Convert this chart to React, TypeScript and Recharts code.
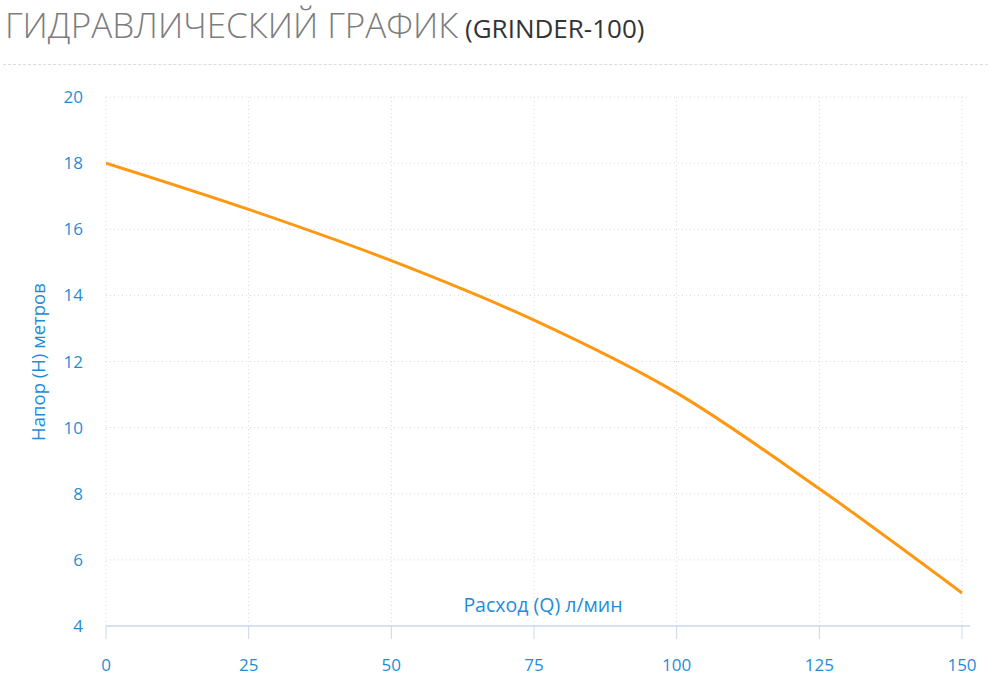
import React from "react";
import { LineChart, Line, XAxis, YAxis, CartesianGrid, Label } from "recharts";

const flowValues = [0, 25, 50, 75, 100, 125, 150];
const headValues = [18, 16.6, 15.05, 13.25, 11.05, 8.15, 5.0];
const xTicks = [0, 25, 50, 75, 100, 125, 150];
const yTicks = [4, 6, 8, 10, 12, 14, 16, 18, 20];

const titleMain = "ГИДРАВЛИЧЕСКИЙ ГРАФИК";
const titleModel = "(GRINDER-100)";
const xTitle = "Расход (Q) л/мин";
const yTitle = "Напор (H) метров";

const data = flowValues.map((q, i) => ({ q, h: headValues[i] }));

const BLUE = "#1f8dd6";
const FONT = "'Open Sans', 'DejaVu Sans', sans-serif";

export default function App() {
  return (
    <div style={{ position: "absolute", left: 0, top: 0, width: 1000, height: 697, background: "#fff", fontFamily: FONT }}>
      <div style={{ position: "absolute", left: 5, top: 1, whiteSpace: "nowrap", lineHeight: "48px" }}>
        <span style={{ fontSize: 35, fontWeight: 300, color: "#7d7d7d" }}>{titleMain}</span>
        <span style={{ fontSize: 26, fontWeight: 400, color: "#333" }}> {titleModel}</span>
      </div>
      <div style={{ position: "absolute", left: 3, top: 64, width: 985, borderTop: "1px dashed #dcdcdc" }} />
      <div style={{ position: "absolute", left: 0, top: 0 }}>
        <LineChart width={1000} height={697} data={data} margin={{ top: 97, right: 30, bottom: 0, left: 0 }}>
          <CartesianGrid stroke="#d8d8d8" strokeDasharray="1 3" horizontalValues={[6, 8, 10, 12, 14, 16, 18, 20]} verticalValues={xTicks} />
          <XAxis
            dataKey="q"
            type="number"
            domain={[0, 151.4]}
            ticks={xTicks}
            allowDataOverflow
            height={71}
            stroke="#ccd6eb"
            axisLine={{ stroke: "#ccd6eb", strokeWidth: 1.5 }}
            tickLine={{ stroke: "#ccd6eb" }}
            tickSize={13}
            tickMargin={20}
            tick={{ fill: BLUE, fontSize: 17, fontFamily: FONT }}
          >
            <Label
              content={() => (
                <text x={543} y={612} textAnchor="middle" fill={BLUE} fontSize={19.5} fontFamily={FONT}>
                  {xTitle}
                </text>
              )}
            />
          </XAxis>
          <YAxis
            type="number"
            domain={[4, 20]}
            ticks={yTicks}
            width={106}
            axisLine={false}
            tickLine={false}
            tickSize={0}
            tickMargin={23}
            tick={{ fill: BLUE, fontSize: 17, fontFamily: FONT }}
          >
            <Label
              content={() => (
                <text
                  x={45}
                  y={362}
                  textAnchor="middle"
                  transform="rotate(-90 45 362)"
                  fill={BLUE}
                  fontSize={18.5}
                  fontFamily={FONT}
                >
                  {yTitle}
                </text>
              )}
            />
          </YAxis>
          <Line
            type="monotone"
            dataKey="h"
            stroke="#ff9811"
            strokeWidth={3}
            dot={false}
            activeDot={false}
            isAnimationActive={false}
          />
        </LineChart>
      </div>
    </div>
  );
}
